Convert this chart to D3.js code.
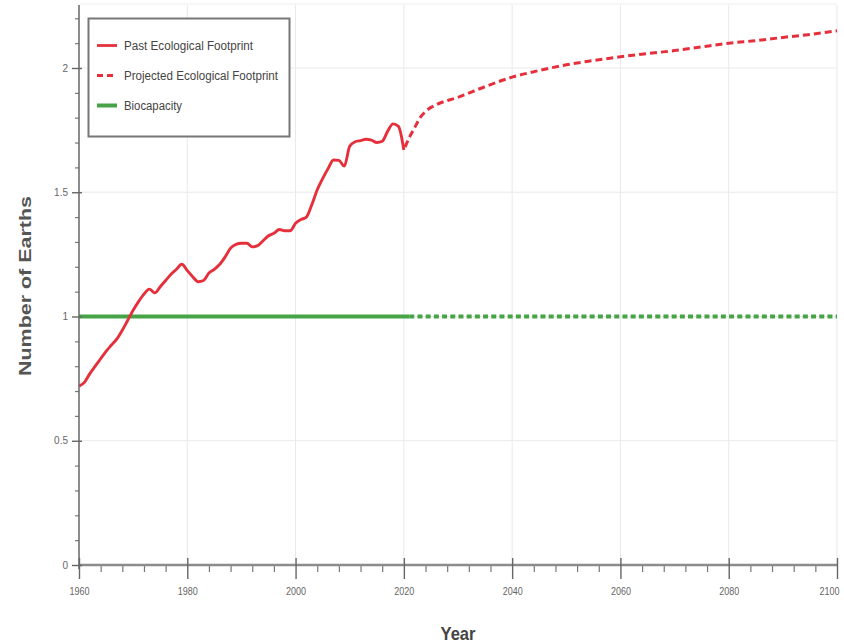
<!DOCTYPE html>
<html><head><meta charset="utf-8">
<script src="https://cdn.jsdelivr.net/npm/d3@7"></script>
<style>
body{margin:0;background:#fff}
svg{display:block}
text{font-family:"Liberation Sans",Arial,Helvetica,sans-serif}
</style>
</head><body>
<svg id="c" width="844" height="644"></svg>
<script>
// ---------- data ----------
const pastYears = d3.range(1960, 2021);
const pastFootprint = [
  0.72, 0.735, 0.77, 0.80, 0.83, 0.86, 0.885, 0.91, 0.945, 0.985,
  1.025, 1.06, 1.09, 1.11, 1.095, 1.12, 1.145, 1.17, 1.19, 1.21,
  1.185, 1.16, 1.14, 1.145, 1.175, 1.19, 1.21, 1.24, 1.275, 1.29,
  1.295, 1.295, 1.28, 1.285, 1.305, 1.325, 1.335, 1.35, 1.345, 1.345,
  1.375, 1.39, 1.40, 1.45, 1.51, 1.555, 1.595, 1.63, 1.628, 1.605,
  1.685, 1.703, 1.708, 1.713, 1.71, 1.70, 1.705, 1.745, 1.775, 1.765,
  1.67
];
const projYears = [2020, 2021, 2022, 2023, 2024, 2026, 2030, 2035, 2040, 2045, 2050, 2055, 2060, 2065, 2070, 2075, 2080, 2085, 2090, 2095, 2100];
const projFootprint = [1.67, 1.72, 1.76, 1.80, 1.825, 1.852, 1.882, 1.925, 1.963, 1.99, 2.013, 2.03, 2.045, 2.058, 2.07, 2.085, 2.10, 2.11, 2.123, 2.135, 2.15];
const bioPastYears = [1960, 2021];
const bioPastValues = [1, 1];
const bioProjYears = [2021, 2100];
const bioProjValues = [1, 1];

const xTickValues = [1960, 1980, 2000, 2020, 2040, 2060, 2080, 2100];
const xTickLabels = ["1960", "1980", "2000", "2020", "2040", "2060", "2080", "2100"];
const yTickValues = [0, 0.5, 1, 1.5, 2];
const yTickLabels = ["0", "0.5", "1", "1.5", "2"];
const legendLabels = ["Past Ecological Footprint", "Projected Ecological Footprint", "Biocapacity"];

// ---------- layout ----------
const RED = "#e5303c", GREEN = "#46a346";
const svg = d3.select("#c");
const L = 79, R = 837, T = 5, B = 565;
const x = d3.scaleLinear().domain([1960, 2100]).range([L, R]);
const y = d3.scaleLinear().domain([0, 2.2535]).range([B, T]);

// grid
const grid = svg.append("g");
grid.selectAll("line.v").data(xTickValues.slice(1)).join("line")
  .attr("x1", d => x(d)).attr("x2", d => x(d)).attr("y1", T).attr("y2", B)
  .attr("stroke", "#e9e9e9").attr("stroke-width", 1);
grid.selectAll("line.h").data(yTickValues.slice(1)).join("line")
  .attr("x1", L).attr("x2", R).attr("y1", d => y(d)).attr("y2", d => y(d))
  .attr("stroke", "#e9e9e9").attr("stroke-width", 1);
grid.append("line").attr("x1", L).attr("x2", R).attr("y1", T - 1).attr("y2", T - 1)
  .attr("stroke", "#eeeeee");

// lines
const line = (xs, ys) => d3.line().x((d, i) => x(xs[i])).y((d, i) => y(ys[i]))(ys);
svg.append("path").attr("d", line(bioPastYears, bioPastValues))
  .attr("fill", "none").attr("stroke", GREEN).attr("stroke-width", 4);
svg.append("path").attr("d", line(bioProjYears, bioProjValues))
  .attr("fill", "none").attr("stroke", GREEN).attr("stroke-width", 4)
  .attr("stroke-dasharray", "5,3.2");
svg.append("path").attr("d", d3.line().curve(d3.curveMonotoneX).x((d, i) => x(pastYears[i])).y(d => y(d))(pastFootprint))
  .attr("fill", "none").attr("stroke", RED).attr("stroke-width", 2.9).attr("stroke-linejoin", "round");
svg.append("path").attr("d", d3.line().curve(d3.curveMonotoneX).x((d, i) => x(projYears[i])).y(d => y(d))(projFootprint))
  .attr("fill", "none").attr("stroke", RED).attr("stroke-width", 3)
  .attr("stroke-dasharray", "7,4").attr("stroke-dashoffset", -3);

// x axis
const xMinor = d3.range(1960, 2101, 4).filter(v => (v - 1960) % 20 !== 0);
const gxMinor = svg.append("g").attr("transform", `translate(0,${B})`)
  .call(d3.axisBottom(x).tickValues(xMinor).tickSize(7).tickFormat(""));
gxMinor.select(".domain").remove();
gxMinor.selectAll(".tick line").attr("stroke", "#777").attr("stroke-width", 1.2);
const gx = svg.append("g").attr("transform", `translate(0,${B})`)
  .call(d3.axisBottom(x).tickValues(xTickValues).tickSize(14).tickPadding(9)
    .tickFormat((d, i) => xTickLabels[i]));
gx.select(".domain").attr("stroke", "#8c8c8c").attr("stroke-width", 2.6).attr("d", `M${L},0H${R}`);
gx.selectAll(".tick line").attr("y1", -7).attr("stroke", "#666").attr("stroke-width", 1.4);
gx.selectAll(".tick text").attr("fill", "#666").attr("font-size", 10)
  .attr("textLength", 20).attr("lengthAdjust", "spacingAndGlyphs");
gx.selectAll(".tick text").filter(d => d === 2100).attr("dx", -8);

// y axis
const yMinor = d3.range(0, 23).map(v => v / 10).filter(v => Math.round(v * 10) % 5 !== 0);
const gyMinor = svg.append("g").attr("transform", `translate(${L},0)`)
  .call(d3.axisLeft(y).tickValues(yMinor).tickSize(4).tickFormat(""));
gyMinor.select(".domain").remove();
gyMinor.selectAll(".tick line").attr("stroke", "#777").attr("stroke-width", 1.2);
const gy = svg.append("g").attr("transform", `translate(${L},0)`)
  .call(d3.axisLeft(y).tickValues(yTickValues).tickSize(7).tickPadding(4)
    .tickFormat((d, i) => yTickLabels[i]));
gy.select(".domain").attr("stroke", "#666").attr("stroke-width", 1.5).attr("d", `M0,${T}V${B + 4}`);
gy.selectAll(".tick line").attr("x2", -7).attr("x1", 3).attr("stroke", "#666").attr("stroke-width", 1.4);
gy.selectAll(".tick text").attr("fill", "#666").attr("font-size", 10);

// axis titles
svg.append("text").attr("x", 458).attr("y", 640).attr("text-anchor", "middle")
  .attr("font-size", 19).attr("font-weight", "bold").attr("fill", "#444")
  .attr("textLength", 35).attr("lengthAdjust", "spacingAndGlyphs").text("Year");
svg.append("text").attr("transform", "translate(31,286) rotate(-90)").attr("text-anchor", "middle")
  .attr("font-size", 16).attr("font-weight", "bold").attr("fill", "#555")
  .attr("textLength", 180).attr("lengthAdjust", "spacingAndGlyphs").text("Number of Earths");

// legend
const lg = svg.append("g");
lg.append("rect").attr("x", 88.5).attr("y", 18.5).attr("width", 201).attr("height", 118)
  .attr("fill", "#fff").attr("stroke", "#777").attr("stroke-width", 2);
const rowY = [45.5, 75.5, 105.5];
const legColors = [RED, RED, GREEN];
const legDash = [null, "6,4", null];
const legW = [2.8, 3, 4];
const legLen = [129, 154, 58];
legendLabels.forEach((lab, i) => {
  lg.append("line").attr("x1", 97).attr("x2", 117).attr("y1", rowY[i]).attr("y2", rowY[i])
    .attr("stroke", legColors[i]).attr("stroke-width", legW[i])
    .attr("stroke-dasharray", legDash[i]);
  lg.append("text").attr("x", 124).attr("y", rowY[i] + 4.5).attr("font-size", 12.5)
    .attr("fill", "#444").attr("textLength", legLen[i]).attr("lengthAdjust", "spacingAndGlyphs")
    .text(lab);
});
</script>
</body></html>
